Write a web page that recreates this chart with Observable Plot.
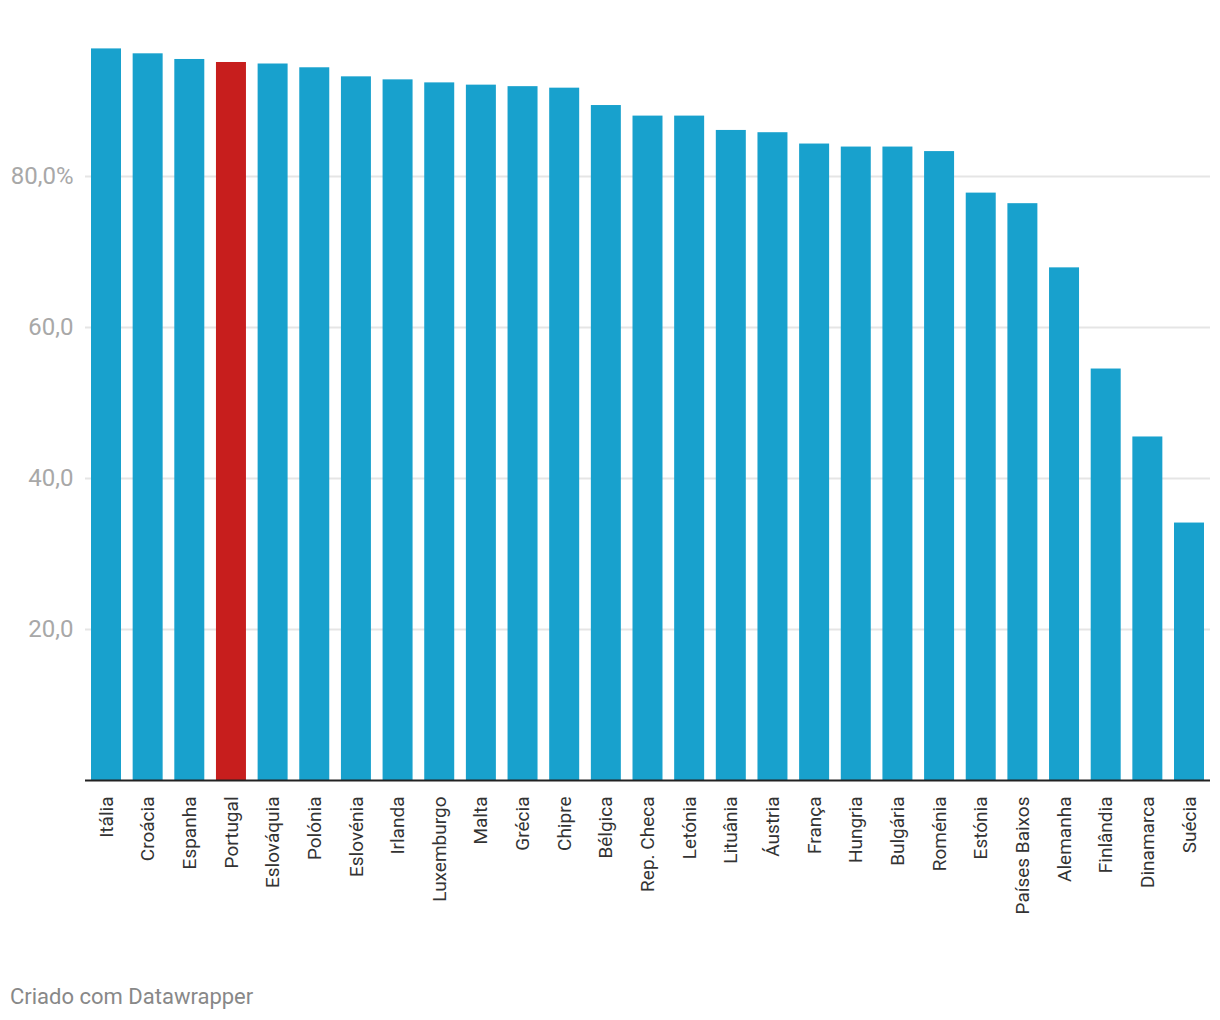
<!DOCTYPE html>
<html>
<head>
<meta charset="utf-8">
<script src="https://cdn.jsdelivr.net/npm/d3@7"></script>
<script src="https://cdn.jsdelivr.net/npm/@observablehq/plot@0.6"></script>
<style>
  html, body { margin: 0; padding: 0; background: #fff; }
  body { font-family: Roboto, "Noto Sans", sans-serif; width: 1220px; }
  #chart svg { display: block; }
  #footer { margin: 24px 0 0 10px; font-size: 22px; color: #888; line-height: 1.2; }
</style>
</head>
<body>
<div id="chart"></div>
<div id="footer">Criado com Datawrapper</div>
<script>
const countries = ["Itália","Croácia","Espanha","Portugal","Eslováquia","Polónia","Eslovénia","Irlanda","Luxemburgo","Malta","Grécia","Chipre","Bélgica","Rep. Checa","Letónia","Lituânia","Áustria","França","Hungria","Bulgária","Roménia","Estónia","Países Baixos","Alemanha","Finlândia","Dinamarca","Suécia"];
const values = [96.9,96.25,95.5,95.1,94.9,94.4,93.2,92.8,92.4,92.1,91.9,91.7,89.4,88.0,88.0,86.1,85.8,84.3,83.9,83.9,83.3,77.8,76.4,67.9,54.5,45.5,34.1];
const highlight = "Portugal";
const yTicks = [20, 40, 60, 80];
const yTickLabels = ["20,0", "40,0", "60,0", "80,0%"];

const data = countries.map((c, i) => ({country: c, value: values[i]}));

const chart = Plot.plot({
  width: 1220,
  height: 960,
  marginTop: 25,
  marginBottom: 180,
  marginLeft: 85,
  marginRight: 10,
  style: {fontFamily: "Roboto, sans-serif", background: "#fff"},
  x: {domain: countries, paddingInner: 0.28, paddingOuter: 0.144, round: false, label: null},
  y: {domain: [0, 100], label: null},
  marks: [
    Plot.gridY(yTicks, {stroke: "#e5e5e5", strokeOpacity: 1, strokeWidth: 2}),
    Plot.barY(data, {x: "country", y: "value", fill: d => d.country === highlight ? "#c71e1d" : "#18a1cd"}),
    Plot.ruleY([0], {stroke: "#222", strokeWidth: 2}),
    Plot.axisY(yTicks, {
      tickSize: 0, tickPadding: 12, fontSize: 24, color: "#a8a8a8", label: null,
      tickFormat: d => yTickLabels[yTicks.indexOf(d)]
    }),
    Plot.axisX({
      tickSize: 0, tickPadding: 16, tickRotate: -90, fontSize: 19, color: "#333", label: null
    })
  ]
});
document.getElementById("chart").appendChild(chart);
</script>
</body>
</html>
